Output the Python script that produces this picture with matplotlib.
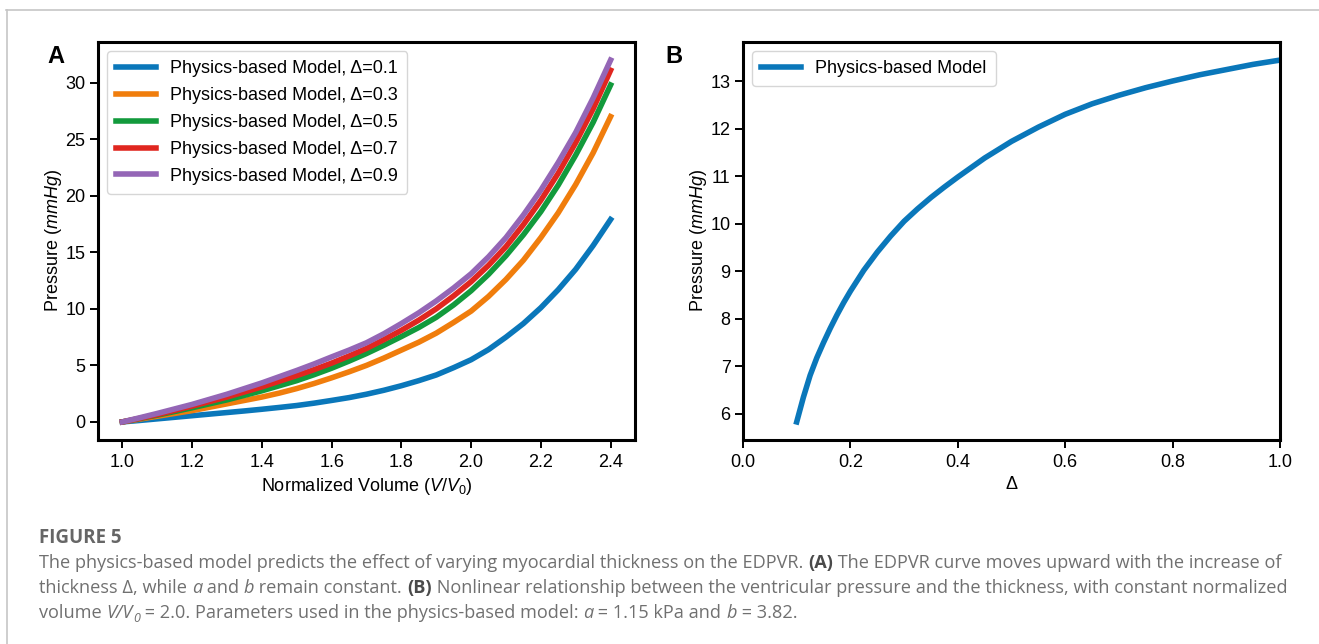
import matplotlib
matplotlib.use("Agg")
import matplotlib.pyplot as plt
from matplotlib.lines import Line2D

# ---------------------------------------------------------
# Data
# ---------------------------------------------------------
# Panel A: EDPVR curves for different thickness values
volume = [1.0, 1.05, 1.1, 1.15, 1.2, 1.25, 1.3, 1.35, 1.4, 1.45, 1.5, 1.55, 1.6, 1.65, 1.7,
          1.75, 1.8, 1.85, 1.9, 1.95, 2.0, 2.05, 2.1, 2.15, 2.2, 2.25, 2.3, 2.35, 2.4]
p_d01 = [0, 0.13, 0.27, 0.41, 0.55, 0.69, 0.83, 0.97, 1.12, 1.28, 1.45, 1.66, 1.9, 2.15, 2.45,
         2.8, 3.2, 3.65, 4.15, 4.8, 5.5, 6.4, 7.5, 8.7, 10.1, 11.7, 13.5, 15.6, 17.9]
p_d03 = [0, 0.25, 0.5, 0.75, 1.0, 1.3, 1.6, 1.9, 2.2, 2.55, 2.95, 3.4, 3.9, 4.43, 5.0,
         5.65, 6.35, 7.05, 7.85, 8.8, 9.8, 11.1, 12.6, 14.3, 16.3, 18.5, 21.0, 23.8, 27.0]
p_d05 = [0, 0.3, 0.6, 0.92, 1.25, 1.6, 1.95, 2.35, 2.75, 3.2, 3.65, 4.18, 4.75, 5.38, 6.05,
         6.78, 7.55, 8.35, 9.25, 10.35, 11.6, 13.05, 14.7, 16.55, 18.6, 20.95, 23.6, 26.5, 29.8]
p_d07 = [0, 0.32, 0.65, 1.02, 1.4, 1.8, 2.2, 2.65, 3.1, 3.6, 4.1, 4.63, 5.2, 5.83, 6.5,
         7.28, 8.1, 9.0, 10.0, 11.15, 12.4, 13.85, 15.5, 17.45, 19.6, 22.0, 24.7, 27.7, 31.1]
p_d09 = [0, 0.37, 0.75, 1.15, 1.55, 2.0, 2.45, 2.95, 3.45, 4.0, 4.55, 5.13, 5.75, 6.35, 7.0,
         7.8, 8.7, 9.65, 10.7, 11.85, 13.1, 14.6, 16.3, 18.3, 20.5, 22.95, 25.6, 28.65, 32.0]
deltas_a = ["0.1", "0.3", "0.5", "0.7", "0.9"]

# Panel B: pressure vs thickness at V/V0 = 2.0
delta_b = [0.1, 0.1125, 0.125, 0.1375, 0.15, 0.1625, 0.175, 0.1875, 0.2, 0.225, 0.25, 0.275,
           0.3, 0.325, 0.35, 0.375, 0.4, 0.45, 0.5, 0.55, 0.6, 0.65, 0.7, 0.75, 0.8, 0.85,
           0.9, 0.95, 1.0]
pressure_b = [5.83, 6.35, 6.81, 7.18, 7.50, 7.80, 8.08, 8.34, 8.58, 9.02, 9.40, 9.74,
              10.05, 10.31, 10.55, 10.77, 10.98, 11.38, 11.73, 12.03, 12.30, 12.52, 12.70,
              12.86, 13.00, 13.13, 13.24, 13.35, 13.44]

colors = ["#0a77ba", "#f07d0c", "#129a3c", "#e0261f", "#9466b6"]

W, H = 1319, 644

plt.rcParams["font.family"] = ["Liberation Sans", "DejaVu Sans"]
plt.rcParams["mathtext.fontset"] = "custom"
plt.rcParams["mathtext.rm"] = "Liberation Sans"
plt.rcParams["mathtext.it"] = "Liberation Sans:italic"
plt.rcParams["font.size"] = 13

fig = plt.figure(figsize=(W / 100, H / 100), dpi=100)


def px(x, y):
    # pixel position (from top-left) -> figure fraction
    return x / W, 1 - y / H


def style_axes(ax):
    for s in ax.spines.values():
        s.set_linewidth(2.2)
    ax.tick_params(direction="out", length=6, width=1.4, pad=4, labelsize=13)
    ax.tick_params(axis="y", pad=3)


# ---------------------------------------------------------
# Panel A
# ---------------------------------------------------------
axA = fig.add_axes([98 / W, 204 / H, 537 / W, 398 / H])
for p, d, c in zip([p_d01, p_d03, p_d05, p_d07, p_d09], deltas_a, colors):
    axA.plot(volume, p, color=c, lw=4, label=f"Physics-based Model, Δ={d}")
axA.set_xticks([1.0, 1.2, 1.4, 1.6, 1.8, 2.0, 2.2, 2.4])
axA.set_yticks([0, 5, 10, 15, 20, 25, 30])
axA.set_xlabel("Normalized Volume ($V/V_0$)", fontsize=13)
axA.set_ylabel("Pressure ($mmHg$)", fontsize=13, labelpad=1)
axA.legend(loc="upper left", fontsize=13, handlelength=2.2, borderaxespad=0.5,
           borderpad=0.5, labelspacing=0.55)
style_axes(axA)

# ---------------------------------------------------------
# Panel B
# ---------------------------------------------------------
axB = fig.add_axes([743 / W, 204 / H, 537 / W, 398 / H])
axB.plot(delta_b, pressure_b, color=colors[0], lw=4, label="Physics-based Model")
axB.set_xlim(0, 1)
axB.set_xticks([0.0, 0.2, 0.4, 0.6, 0.8, 1.0])
axB.set_yticks([6, 7, 8, 9, 10, 11, 12, 13])
axB.set_xlabel("Δ", fontsize=13)
axB.set_ylabel("Pressure ($mmHg$)", fontsize=13, labelpad=1)
axB.legend(loc="upper left", fontsize=13, handlelength=2.2, borderaxespad=0.5,
           borderpad=0.5)
style_axes(axB)

fig.text(*px(47, 63), "A", fontsize=17, fontweight="bold", va="baseline", ha="left")
fig.text(*px(665, 63), "B", fontsize=17, fontweight="bold", va="baseline", ha="left")

# card border (top and left gray lines)
fig.add_artist(Line2D([6 / W, 1], [1 - 9.5 / H, 1 - 9.5 / H], transform=fig.transFigure,
                      color="#c6c6c6", lw=1.2))
fig.add_artist(Line2D([6.5 / W, 6.5 / W], [0, 1 - 9.5 / H], transform=fig.transFigure,
                      color="#c6c6c6", lw=1.2))

# ---------------------------------------------------------
# Caption (drawn as runs so that italics/bold can be mixed)
# ---------------------------------------------------------
renderer = fig.canvas.get_renderer()
cap_kw = dict(family=["Open Sans", "DejaVu Sans"], fontsize=13.05, color="#707070")


def run_width(txt, kw):
    a = fig.text(0, 0, "x" + txt + "x", **kw)
    b = fig.text(0, 0, "xx", **kw)
    w = a.get_window_extent(renderer).width - b.get_window_extent(renderer).width
    a.remove()
    b.remove()
    return w


def draw_runs(x0, y_base, runs):
    x = x0
    for txt, style in runs:
        kw = dict(cap_kw)
        kw.update(style)
        dy = kw.pop("dy", 0)
        fig.text(*px(x, y_base + dy), txt, va="baseline", ha="left", **kw)
        x += run_width(txt, kw)


IT = {"style": "italic"}
BF = {"fontweight": "bold", "color": "#4a4a4a"}
SUB = {"style": "italic", "fontsize": 9, "dy": 4}

fig.text(*px(39, 543), "FIGURE 5", family=["Open Sans", "DejaVu Sans"], fontsize=13.5,
         fontweight="bold", color="#666666", va="baseline", ha="left")

draw_runs(39, 568, [
    ("The physics-based model predicts the effect of varying myocardial thickness on the EDPVR. ", {}),
    ("(A)", BF),
    (" The EDPVR curve moves upward with the increase of", {}),
])
draw_runs(39, 593, [
    ("thickness Δ, while ", {}),
    ("a", IT),
    (" and ", {}),
    ("b", IT),
    (" remain constant. ", {}),
    ("(B)", BF),
    (" Nonlinear relationship between the ventricular pressure and the thickness, with constant normalized", {}),
])
draw_runs(39, 618, [
    ("volume ", {}),
    ("V/V", IT),
    ("0", SUB),
    (" = 2.0. Parameters used in the physics-based model: ", {}),
    ("a", IT),
    (" = 1.15 kPa and ", {}),
    ("b", IT),
    (" = 3.82.", {}),
])

fig.savefig("out.png", dpi=100)
